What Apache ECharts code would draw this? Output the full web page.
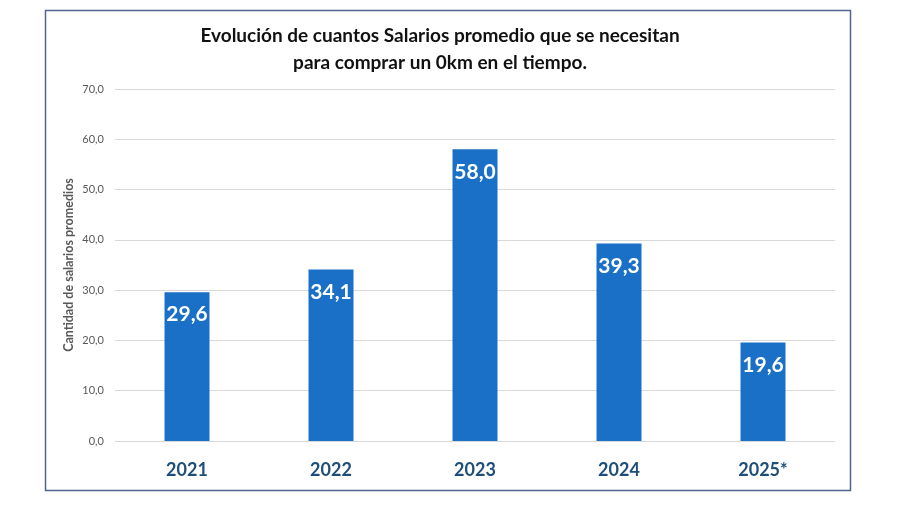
<!DOCTYPE html>
<html>
<head>
<meta charset="utf-8">
<script src="https://cdn.jsdelivr.net/npm/echarts@6/dist/echarts.min.js"></script>
<style>html,body{margin:0;padding:0;background:#fff}#c{width:900px;height:506px}</style>
</head>
<body>
<div id="c"></div>
<script>
const categories = ['2021', '2022', '2023', '2024', '2025*'];
const values = [29.6, 34.1, 58.0, 39.3, 19.6];
const yTicks = [0, 10, 20, 30, 40, 50, 60, 70];
const titleText = 'Evolución de cuantos Salarios promedio que se necesitan\npara comprar un 0km en el tiempo.';
const yName = 'Cantidad de salarios promedios';

const fmt = v => v.toFixed(1).replace('.', ',');
const chart = echarts.init(document.getElementById('c'), null, {renderer: 'canvas'});
chart.setOption({
  backgroundColor: '#ffffff',
  animation: false,
  title: {
    text: titleText,
    left: 435, top: 17, textAlign: 'center',
    textStyle: {fontFamily: 'Lato', fontWeight: 'bold', fontSize: 19, color: '#111', lineHeight: 27}
  },
  graphic: [{
    type: 'rect', shape: {x: 45.5, y: 10.5, width: 805, height: 480},
    style: {fill: 'none', stroke: '#4f6592', lineWidth: 1.5}, silent: true, z: -1
  }],
  grid: {left: 115, right: 65, top: 89, bottom: 65, containLabel: false},
  xAxis: {
    type: 'category', data: categories,
    axisLine: {show: false}, axisTick: {show: false},
    axisLabel: {fontFamily: 'Lato', fontWeight: 'bold', fontSize: 18, color: '#1f4e79', margin: 20}
  },
  yAxis: {
    type: 'value', min: yTicks[0], max: yTicks[yTicks.length - 1], interval: 10,
    name: yName, nameLocation: 'middle', nameGap: 40, nameRotate: 90, nameMoveOverlap: false,
    nameTextStyle: {fontFamily: 'Lato', fontWeight: 'bold', fontSize: 12.5, color: '#595959'},
    axisLine: {show: false}, axisTick: {show: false},
    axisLabel: {fontFamily: 'Lato', fontSize: 11, color: '#595959', margin: 11, formatter: v => fmt(v)},
    splitLine: {lineStyle: {color: '#d9d9d9', width: 1}}
  },
  series: [{
    type: 'bar', data: values, barWidth: 45,
    itemStyle: {color: '#1a6fc7'},
    label: {
      show: true, position: 'insideTop', distance: 12,
      fontFamily: 'Lato', fontWeight: 'bold', fontSize: 21, color: '#ffffff',
      formatter: p => fmt(p.value)
    }
  }]
});
</script>
</body>
</html>
